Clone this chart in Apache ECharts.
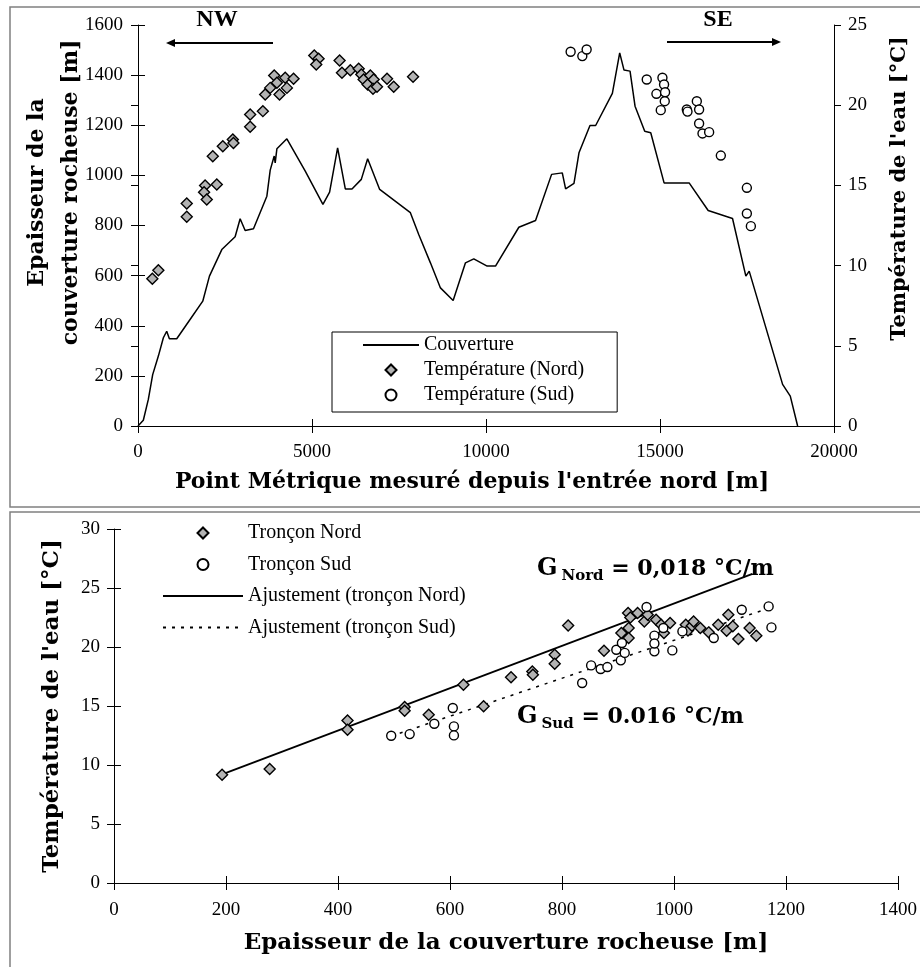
<!DOCTYPE html>
<html><head><meta charset="utf-8">
<script src="https://cdn.jsdelivr.net/npm/echarts@6/dist/echarts.min.js"></script>
<style>html,body{margin:0;padding:0;background:#fff}#c{width:920px;height:967px}</style>
</head><body><div id="c"></div>
<script>
// ---------- DATA ----------
// Top chart: rock cover thickness along the tunnel
const coverPM = [0,153,297,422,585,729,825,902,1113,1496,1861,2053,2408,2791,2935,3079,3319,3703,3799,3914,3942,3991,4278,4806,5314,5506,5736,5957,6149,6417,6599,6945,7827,8067,8403,8691,9056,9410,9649,10033,10273,10944,11424,11885,12192,12288,12528,12672,12988,13151,13631,13842,13966,14139,14283,14561,14734,15117,15837,16384,17084,17467,17563,18523,18744,18955];
const coverThick = [0,23,106,205,279,352,378,348,348,425,498,598,704,755,827,780,787,917,1021,1077,1050,1106,1146,1017,884,933,1110,946,946,984,1066,944,851,764,651,551,501,651,667,638,638,793,820,1004,1010,946,968,1090,1199,1199,1327,1489,1420,1416,1276,1176,1170,970,970,860,828,598,618,166,119,0];
// Top chart: water temperature, north section
const tempNordPM = [412,585,1401,1401,1928,1899,1976,2264,2149,2437,2725,2743,3223,3223,3588,3655,3799,3914,3991,4067,4230,4278,4470,5065,5189,5122,5793,5861,6101,6341,6417,6484,6676,6599,6772,6753,6868,7156,7348,7904];
const tempNordT = [9.18,9.71,13.87,13.04,14.99,14.58,14.12,15.06,16.82,17.44,17.86,17.65,19.42,18.65,19.63,20.67,21.08,21.85,21.4,20.67,21.71,21.08,21.65,23.1,22.89,22.54,22.79,22.02,22.18,22.27,21.91,21.6,21.85,21.29,21.6,21.02,21.15,21.65,21.15,21.77];
// Top chart: water temperature, south section
const tempSudPM = [12432,12768,12892,14619,15070,15117,14897,15146,15137,15022,15770,15790,16058,16124,16124,16221,16412,16748,17496,17496,17611];
const tempSudT = [23.33,23.06,23.47,21.6,21.71,21.29,20.71,20.81,20.25,19.69,19.73,19.6,20.25,19.73,18.86,18.24,18.32,16.86,14.85,13.25,12.46];
// Bottom chart: temperature vs cover thickness
const nordThick = [193,278,417,417,519,519,562,624,660,709,747,748,787,787,811,875,906,918,919,919,922,935,947,953,968,977,982,993,1021,1025,1032,1035,1047,1062,1079,1094,1097,1105,1115,1135,1147];
const nordTemp = [9.18,9.66,13.78,12.99,14.92,14.6,14.26,16.8,14.97,17.43,17.93,17.65,19.35,18.58,21.83,19.69,21.19,22.88,21.61,20.76,22.5,22.88,22.17,22.74,22.31,21.89,21.19,22.03,21.89,21.4,21.8,22.17,21.61,21.24,21.89,21.38,22.74,21.75,20.67,21.61,20.96];
const sudThick = [495,528,572,605,607,607,836,852,869,881,897,905,907,912,951,965,965,965,981,997,1015,1071,1121,1169,1174];
const sudTemp = [12.48,12.62,13.5,14.83,13.27,12.51,16.95,18.44,18.13,18.3,19.77,18.87,20.34,19.5,23.39,20.96,19.63,20.3,21.61,19.71,21.32,20.76,23.16,23.44,21.66];
// Fitted lines (end points)
const fitNordX = [193, 1140], fitNordY = [9.2, 26.2];
const fitSudX = [495, 1170], fitSudY = [12.45, 23.3];
// Axis ranges
const pmAxis = [0, 20000, 5000];
const thickAxisTop = [0, 1600, 200];
const tempAxisTop = [0, 25, 5];
const thickAxisBot = [0, 1400, 200];
const tempAxisBot = [0, 30, 5];
// Labels
const serLabels = ['Couverture', 'Température (Nord)', 'Température (Sud)'];
const botLabels = ['Tronçon Nord', 'Tronçon Sud', 'Ajustement (tronçon Nord)', 'Ajustement (tronçon Sud)'];

// ---------- CHART ----------
const zip = (a, b) => a.map((v, i) => [v, b[i]]);
const SERIF = "'Liberation Serif','Times New Roman',serif";
const TFONT = "'DejaVu Serif',serif";
const diamondIcon = 'path://M5,0L10,5L5,10L0,5Z';
const TICK = 7;
const HIDDEN = { color: 'rgba(0,0,0,0)', borderColor: 'rgba(0,0,0,0)', borderWidth: 0, opacity: 0 };

function lbl(margin) {
  return { fontFamily: SERIF, fontSize: 19, color: '#000', margin: margin, formatter: (v) => String(v) };
}
function axis(range, o) {
  const a = {
    type: 'value', min: range[0], max: range[1], interval: range[2],
    splitLine: { show: false },
    nameMoveOverlap: false,
    axisLine: { show: true, onZero: false, lineStyle: { color: '#000', width: 1 } },
    axisTick: { show: true, inside: false, length: TICK, lineStyle: { color: '#000', width: 1 } },
    axisLabel: lbl(15)
  };
  return Object.assign(a, o);
}
function innerTicks(range, o) {
  return Object.assign({
    type: 'value', min: range[0], max: range[1], interval: range[2],
    splitLine: { show: false }, axisLine: { show: false },
    axisTick: { show: true, inside: true, length: TICK, lineStyle: { color: '#000', width: 1 } },
    axisLabel: { show: false }
  }, o);
}

const titleStyle = (sz) => ({ fontFamily: TFONT, fontWeight: 'bold', fontSize: sz, color: '#000' });

const option = {
  backgroundColor: '#fff',
  animation: false,
  grid: [
    { left: 138, top: 25, width: 696, height: 401 },
    { left: 114, top: 529, width: 792, height: 354 }
  ],
  xAxis: [
    axis(pmAxis, { gridIndex: 0, position: 'bottom', axisLabel: lbl(17),
      name: "Point Métrique mesuré depuis l'entrée nord [m]", nameLocation: 'middle', nameGap: 45,
      nameTextStyle: Object.assign(titleStyle(22), { padding: [0, 28, 0, 0] }) }),
    axis(thickAxisBot, { gridIndex: 1, position: 'bottom', axisLabel: lbl(18),
      name: 'Epaisseur de la couverture rocheuse [m]', nameLocation: 'middle', nameGap: 49,
      nameTextStyle: titleStyle(23) }),
    innerTicks(pmAxis, { gridIndex: 0, position: 'bottom' }),
    innerTicks(thickAxisBot, { gridIndex: 1, position: 'bottom' })
  ],
  yAxis: [
    axis(thickAxisTop, { gridIndex: 0, position: 'left', axisLabel: lbl(15),
      name: 'Epaisseur de la\ncouverture rocheuse [m]', nameLocation: 'middle', nameGap: 50,
      nameTextStyle: Object.assign(titleStyle(22), { lineHeight: 34, padding: [0, 0, 0, 66] }) }),
    axis(tempAxisTop, { gridIndex: 0, position: 'right', axisLabel: lbl(14),
      name: "Température de l'eau [°C]", nameLocation: 'middle', nameGap: 55,
      nameTextStyle: Object.assign(titleStyle(21), { padding: [0, 0, 0, 74] }) }),
    axis(tempAxisBot, { gridIndex: 1, position: 'left', axisLabel: lbl(14),
      name: "Température de l'eau [°C]", nameLocation: 'middle', nameGap: 50,
      nameTextStyle: titleStyle(23) }),
    innerTicks(thickAxisTop, { gridIndex: 0, position: 'left' }),
    innerTicks(tempAxisTop, { gridIndex: 0, position: 'right' }),
    innerTicks(tempAxisBot, { gridIndex: 1, position: 'left' })
  ],
  legend: [
    {
      orient: 'vertical', left: 332, top: 332,
      padding: [3, 33, 7, 30], itemGap: 5, itemWidth: 56, itemHeight: 11,
      borderColor: '#000', borderWidth: 1, backgroundColor: '#fff',
      textStyle: { fontFamily: SERIF, fontSize: 20, color: '#000' },
      selectedMode: false,
      data: [ { name: serLabels[0], itemStyle: HIDDEN }, { name: serLabels[1], icon: diamondIcon }, { name: serLabels[2], icon: 'circle' } ]
    },
    {
      orient: 'vertical', left: 162, top: 523,
      padding: 0, itemGap: 11.5, itemWidth: 80, itemHeight: 11,
      textStyle: { fontFamily: SERIF, fontSize: 20, color: '#000' },
      selectedMode: false,
      data: [ { name: botLabels[0], icon: diamondIcon }, { name: botLabels[1], icon: 'circle' },
              { name: botLabels[2], itemStyle: HIDDEN }, { name: botLabels[3], itemStyle: HIDDEN } ]
    }
  ],
  series: [
    { name: serLabels[0], type: 'line', xAxisIndex: 0, yAxisIndex: 0, data: zip(coverPM, coverThick),
      symbol: 'none', lineStyle: { color: '#000', width: 1.5 }, itemStyle: { color: 'rgba(0,0,0,0)' }, z: 2 },
    { name: serLabels[1], type: 'scatter', xAxisIndex: 0, yAxisIndex: 1, data: zip(tempNordPM, tempNordT),
      symbol: 'diamond', symbolSize: 11, itemStyle: { color: '#b3b3b3', borderColor: '#000', borderWidth: 1.4, opacity: 1 }, z: 3 },
    { name: serLabels[2], type: 'scatter', xAxisIndex: 0, yAxisIndex: 1, data: zip(tempSudPM, tempSudT),
      symbol: 'circle', symbolSize: 9, itemStyle: { color: '#fff', borderColor: '#000', borderWidth: 1.4, opacity: 1 }, z: 3 },
    { name: botLabels[0], type: 'scatter', xAxisIndex: 1, yAxisIndex: 2, data: zip(nordThick, nordTemp),
      symbol: 'diamond', symbolSize: 11, itemStyle: { color: '#b3b3b3', borderColor: '#000', borderWidth: 1.4, opacity: 1 }, z: 3 },
    { name: botLabels[1], type: 'scatter', xAxisIndex: 1, yAxisIndex: 2, data: zip(sudThick, sudTemp),
      symbol: 'circle', symbolSize: 9, itemStyle: { color: '#fff', borderColor: '#000', borderWidth: 1.4, opacity: 1 }, z: 3 },
    { name: botLabels[2], type: 'line', xAxisIndex: 1, yAxisIndex: 2, data: zip(fitNordX, fitNordY),
      symbol: 'none', lineStyle: { color: '#000', width: 1.8 }, itemStyle: { color: 'rgba(0,0,0,0)' }, z: 2 },
    { name: botLabels[3], type: 'line', xAxisIndex: 1, yAxisIndex: 2, data: zip(fitSudX, fitSudY),
      symbol: 'none', lineStyle: { color: '#000', width: 1.5, type: [3, 6] }, itemStyle: { color: 'rgba(0,0,0,0)' }, z: 2 }
  ],
  graphic: [
    { type: 'rect', shape: { x: 10, y: 7, width: 960, height: 500 }, style: { fill: 'none', stroke: '#808080', lineWidth: 1.5 }, z: -1, silent: true },
    { type: 'rect', shape: { x: 10, y: 512, width: 960, height: 500 }, style: { fill: 'none', stroke: '#808080', lineWidth: 1.5 }, z: -1, silent: true },
    { type: 'text', x: 217, y: 20, style: { text: 'NW', font: "bold 24px 'Liberation Serif'", fill: '#000', align: 'center', verticalAlign: 'middle' } },
    { type: 'line', shape: { x1: 273, y1: 43, x2: 172, y2: 43 }, style: { stroke: '#000', lineWidth: 2 } },
    { type: 'polygon', shape: { points: [[166, 43], [175, 39], [175, 47]] }, style: { fill: '#000' } },
    { type: 'text', x: 718, y: 20, style: { text: 'SE', font: "bold 24px 'Liberation Serif'", fill: '#000', align: 'center', verticalAlign: 'middle' } },
    { type: 'line', shape: { x1: 667, y1: 42, x2: 775, y2: 42 }, style: { stroke: '#000', lineWidth: 2 } },
    { type: 'polygon', shape: { points: [[781, 42], [772, 38], [772, 46]] }, style: { fill: '#000' } },
    { type: 'text', x: 537, y: 569, style: {
        text: '{g|G}{s|Nord}{v| = 0,018 °C/m}', align: 'left', verticalAlign: 'middle',
        rich: { g: { font: "bold 24px 'DejaVu Serif'", fill: '#000' },
                s: { font: "bold 15px 'DejaVu Serif'", fill: '#000', padding: [14, 0, 0, 4] },
                v: { font: "bold 22px 'DejaVu Serif'", fill: '#000' } } } },
    { type: 'text', x: 517, y: 717, style: {
        text: '{g|G}{s|Sud}{v| = 0.016 °C/m}', align: 'left', verticalAlign: 'middle',
        rich: { g: { font: "bold 24px 'DejaVu Serif'", fill: '#000' },
                s: { font: "bold 15px 'DejaVu Serif'", fill: '#000', padding: [14, 0, 0, 4] },
                v: { font: "bold 22px 'DejaVu Serif'", fill: '#000' } } } }
  ]
};
const chart = echarts.init(document.getElementById('c'), null, { renderer: 'canvas' });
chart.setOption(option);
</script></body></html>
